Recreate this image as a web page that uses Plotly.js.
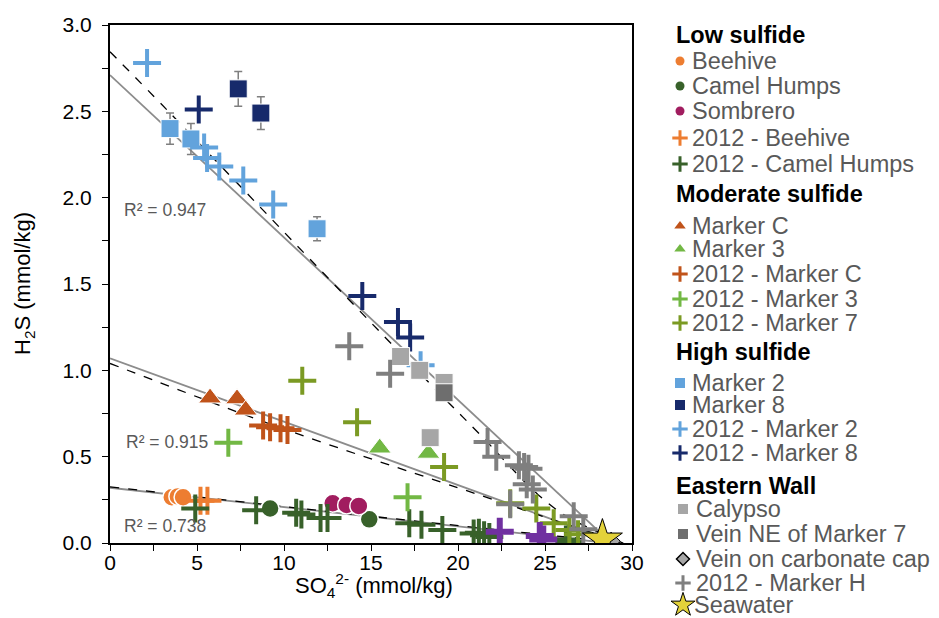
<!DOCTYPE html>
<html>
<head>
<meta charset="utf-8">
<script src="https://cdn.plot.ly/plotly-3.0.1.min.js"></script>
<style>html,body{margin:0;padding:0;background:#fff;}#chart{width:939px;height:618px;}</style>
</head>
<body>
<div id="chart"></div>
<script>
// ---- Data (SO4 mmol/kg, H2S mmol/kg) ----
const beehiveX = [3.55, 3.9, 4.2];
const beehiveY = [0.265, 0.27, 0.265];
const camelX = [9.2, 14.9];
const camelY = [0.20, 0.137];
const sombreroX = [12.8, 13.6, 14.3];
const sombreroY = [0.23, 0.22, 0.215];
const beehive12X = [5.2, 5.6];
const beehive12Y = [0.245, 0.245];
const camel12X = [4.9, 8.4, 10.7, 11.0, 12.1, 12.5, 17.2, 17.9, 19.1, 20.9, 21.2, 21.5, 21.8, 26.2, 26.4];
const camel12Y = [0.20, 0.19, 0.175, 0.165, 0.145, 0.145, 0.115, 0.105, 0.075, 0.055, 0.06, 0.045, 0.035, 0.02, 0.005];

const markerCX = [5.75, 7.3, 7.8];
const markerCY = [0.84, 0.835, 0.77];
const markerCErr = [0.02, 0.02, 0.02];
const marker3X = [15.5, 18.3];
const marker3Y = [0.55, 0.52];
const marker3Err = [0.02, 0.02];
const markerC12X = [8.8, 9.2, 9.8, 10.2];
const markerC12Y = [0.68, 0.67, 0.665, 0.655];
const marker312X = [6.8, 17.1];
const marker312Y = [0.58, 0.265];
const marker712X = [11.05, 14.2, 19.2, 23.0, 24.5, 25.5, 26.4, 26.9];
const marker712Y = [0.94, 0.70, 0.44, 0.23, 0.20, 0.115, 0.075, 0.05];

const marker2X = [3.45, 4.65, 11.9];
const marker2Y = [2.40, 2.34, 1.82];
const marker2Err = [0.09, 0.09, 0.07];
const marker8X = [7.37, 8.67];
const marker8Y = [2.63, 2.49];
const marker8Err = [0.10, 0.095];
const marker212X = [2.13, 5.41, 5.58, 6.28, 7.66, 9.38, 17.85];
const marker212Y = [2.78, 2.29, 2.23, 2.18, 2.10, 1.96, 1.03];
const marker812X = [5.1, 14.5, 16.55, 17.25];
const marker812Y = [2.51, 1.43, 1.28, 1.19];

const calypsoX = [16.7, 17.8, 19.2, 18.4];
const calypsoY = [1.08, 1.00, 0.93, 0.61];
const veinNEX = [19.2];
const veinNEY = [0.87];
const veinCapX = [28.8];
const veinCapY = [0.01];
const markerH12X = [13.75, 16.1, 21.7, 22.2, 23.5, 23.8, 24.05, 23.95, 24.3, 23.0, 26.65, 27.2];
const markerH12Y = [1.14, 0.98, 0.585, 0.50, 0.45, 0.44, 0.43, 0.34, 0.31, 0.225, 0.155, 0.08];
const seawaterX = [28.3];
const seawaterY = [0.02];
const purpleX = [22.4, 24.7, 24.9];
const purpleY = [0.065, 0.04, 0.02];

// trend lines
const highSolidX = [0, 28.6];
const highSolidY = [2.71, 0.02];
const modSolidX = [0, 28.6];
const modSolidY = [1.07, 0.02];
const lowSolidX = [0, 28.6];
const lowSolidY = [0.32, 0.0];
const highDashX = [0, 3.26, 12.1, 18.9, 21.25, 24.6, 26.4, 29.6];
const highDashY = [2.845, 2.51, 1.58, 0.87, 0.63, 0.28, 0.145, 0.0];
const modDashX = [0, 10, 20, 25, 29.5];
const modDashY = [1.04, 0.66, 0.32, 0.15, 0.0];
const lowDashX = [0, 15, 29.5];
const lowDashY = [0.325, 0.155, 0.0];

const r2Labels = ['R² = 0.947', 'R² = 0.915', 'R² = 0.738'];
const r2X = [0.7, 0.8, 0.7];
const r2Y = [1.93, 0.585, 0.10];

const xTitle = 'SO<sub>4</sub><sup>2-</sup> (mmol/kg)';
const yTitle = 'H<sub>2</sub>S (mmol/kg)';

// legend content
const groupTitles = ['Low sulfide', 'Moderate sulfide', 'High sulfide', 'Eastern Wall'];
const legendNames = [
  ['Beehive', 'Camel Humps', 'Sombrero', '2012 - Beehive', '2012 - Camel Humps'],
  ['Marker C', 'Marker 3', '2012 - Marker C', '2012 - Marker 3', '2012 - Marker 7'],
  ['Marker 2', 'Marker 8', '2012 - Marker 2', '2012 - Marker 8'],
  ['Calypso', 'Vein NE of Marker 7', 'Vein on carbonate cap', '2012 - Marker H', 'Seawater']
];

// ---- Styles ----
const FONT = 'Arial, Liberation Sans, sans-serif';
const C = {
  beehive: '#ed7d31', camel: '#38612a', sombrero: '#a11d5f',
  mc: '#c0531a', m3: '#72b844', m7: '#7b9a23',
  m2: '#62a3dc', m8: '#172a6b',
  calypso: '#a6a6a6', veinNE: '#6e6e6e', markerH: '#7f7f7f', star: '#e3d23a', purple: '#7030a0'
};
const legendStyles = [
  [{s: 'circle', c: C.beehive}, {s: 'circle', c: C.camel}, {s: 'circle', c: C.sombrero}, {s: 'cross', c: C.beehive}, {s: 'cross', c: C.camel}],
  [{s: 'triangle-up', c: C.mc}, {s: 'triangle-up', c: C.m3}, {s: 'cross', c: C.mc}, {s: 'cross', c: C.m3}, {s: 'cross', c: C.m7}],
  [{s: 'square', c: C.m2}, {s: 'square', c: C.m8}, {s: 'cross', c: C.m2}, {s: 'cross', c: C.m8}],
  [{s: 'square', c: C.calypso}, {s: 'square', c: C.veinNE}, {s: 'diamond', c: C.calypso}, {s: 'cross', c: C.markerH}, {s: 'star', c: C.star}]
];
// legend layout in pixel rows
const headerRowsPx = [35, 194, 352, 486];
const itemRowsPx = [[61, 86, 111, 138, 164], [226, 249, 274, 299, 323], [383, 405, 429, 453], [509, 534, 559, 583, 605]];

function circle(x, y, color) {
  return {type: 'scatter', mode: 'markers', x, y, showlegend: false,
    marker: {symbol: 'circle', size: 18, color, line: {color: '#fff', width: 1.5}}};
}
function cross(x, y, color, w) {
  return {type: 'scatter', mode: 'markers', x, y, showlegend: false,
    marker: {symbol: 'cross-thin', size: 20, color, line: {color, width: w || 4}}};
}
function sym(x, y, color, symbol, size, err, lineColor) {
  const t = {type: 'scatter', mode: 'markers', x, y, showlegend: false,
    marker: {symbol, size, color, line: {color: lineColor || '#fff', width: 1}}};
  if (err) t.error_y = {type: 'data', array: err, color: '#7f7f7f', thickness: 1.5, width: 4};
  return t;
}
function line(x, y, dash, color) {
  return {type: 'scatter', mode: 'lines', x, y, showlegend: false, hoverinfo: 'skip',
    line: {color, width: dash ? 1.3 : 1.8, dash: dash ? 'dash' : 'solid', shape: 'spline'}};
}

const traces = [
  line(highSolidX, highSolidY, false, '#8c8c8c'),
  line(modSolidX, modSolidY, false, '#8c8c8c'),
  line(lowSolidX, lowSolidY, false, '#8c8c8c'),
  line(highDashX, highDashY, true, '#000'),
  line(modDashX, modDashY, true, '#000'),
  line(lowDashX, lowDashY, true, '#000'),

  circle(beehiveX, beehiveY, C.beehive),
  circle(camelX, camelY, C.camel),
  circle(sombreroX, sombreroY, C.sombrero),
  cross(beehive12X, beehive12Y, C.beehive),
  cross(camel12X, camel12Y, C.camel),

  sym(markerCX, markerCY, C.mc, 'triangle-up', 20, markerCErr),
  sym(marker3X, marker3Y, C.m3, 'triangle-up', 20, marker3Err),
  cross(markerC12X, markerC12Y, C.mc),
  cross(marker312X, marker312Y, C.m3),
  cross(marker712X, marker712Y, C.m7),

  sym(marker2X, marker2Y, C.m2, 'square', 18, marker2Err),
  sym(marker8X, marker8Y, C.m8, 'square', 18, marker8Err),
  cross(marker212X, marker212Y, C.m2),
  cross(marker812X, marker812Y, C.m8),

  sym(calypsoX, calypsoY, C.calypso, 'square', 18),
  sym(veinNEX, veinNEY, C.veinNE, 'square', 18),
  sym(veinCapX, veinCapY, C.calypso, 'diamond', 14, null, '#000'),
  cross(markerH12X, markerH12Y, C.markerH),
  cross(purpleX, purpleY, C.purple, 6),
  sym(seawaterX, seawaterY, C.star, 'star', 30, null, '#000')
];

// ---- Page geometry (margins 0; axes placed with domains) ----
const PW = 939, PH = 618;
const L = 110, T = 25, W = 522, H = 518;      // main plot area in px

// full-page "pixel" axes (x3/y3) for legend swatches and free text
const annotations = [];
function pxText(x, y, text, font, extra) {
  annotations.push(Object.assign({xref: 'x3', yref: 'y3', x, y, text, showarrow: false,
    xanchor: 'left', yanchor: 'middle', font}, extra || {}));
}
groupTitles.forEach((g, gi) => {
  pxText(674, headerRowsPx[gi], '<b>' + g + '</b>', {family: FONT, size: 23.5, color: '#000'});
  legendNames[gi].forEach((n, ni) => {
    const tx = gi === 3 ? (n === 'Seawater' ? 692 : 694) : 690;
    pxText(tx, itemRowsPx[gi][ni], n, {family: FONT, size: 23.5, color: '#595959'});
    const st = legendStyles[gi][ni];
    const mx = gi === 3 ? 683 : 680;
    let marker;
    if (st.s === 'cross') marker = {symbol: 'cross-thin', size: 11, color: st.c, line: {color: st.c, width: 3}};
    else if (st.s === 'star') marker = {symbol: 'star', size: 18, color: st.c, line: {color: '#000', width: 1}};
    else if (st.s === 'diamond') marker = {symbol: 'diamond', size: 10, color: st.c, line: {color: '#000', width: 1.5}};
    else if (st.s === 'circle') marker = {symbol: 'circle', size: 9, color: st.c, line: {width: 0}};
    else if (st.s === 'triangle-up') marker = {symbol: 'triangle-up', size: 10, color: st.c, line: {width: 0}};
    else marker = {symbol: 'square', size: 10, color: st.c, line: {width: 0}};
    traces.push({type: 'scatter', mode: 'markers', xaxis: 'x3', yaxis: 'y3', cliponaxis: false,
      x: [mx], y: [itemRowsPx[gi][ni]], showlegend: false, hoverinfo: 'skip', marker});
  });
});
// axis titles
pxText(374, 585, xTitle, {family: FONT, size: 22, color: '#000'}, {xanchor: 'center'});
pxText(24, 284, yTitle, {family: FONT, size: 22, color: '#000'}, {xanchor: 'center', textangle: -90});
// R² labels in data coordinates
r2Labels.forEach((t, i) => annotations.push({
  x: r2X[i], y: r2Y[i], xref: 'x', yref: 'y', text: t, showarrow: false, xanchor: 'left', yanchor: 'middle',
  font: {family: FONT, size: 17.5, color: '#595959'}
}));

const tickFont = {family: FONT, size: 21, color: '#000'};
const layout = {
  width: PW, height: PH,
  margin: {l: 0, r: 0, t: 0, b: 0, pad: 0},
  paper_bgcolor: '#fff', plot_bgcolor: 'rgba(0,0,0,0)',
  font: {family: FONT},
  showlegend: false,
  xaxis: {domain: [L / PW, (L + W) / PW], anchor: 'y', range: [0, 30], dtick: 5, tick0: 0, showgrid: false, zeroline: false,
    showline: true, linecolor: '#000', linewidth: 2, mirror: true,
    ticks: 'outside', ticklen: 6, tickcolor: '#000', tickwidth: 1, ticklabelstandoff: -6,
    minor: {dtick: 2.5, ticks: 'outside', ticklen: 6, tickcolor: '#000', tickwidth: 1, showgrid: false},
    tickfont: tickFont},
  yaxis: {domain: [(PH - T - H) / PH, (PH - T) / PH], anchor: 'x', range: [0, 3], dtick: 0.5, tick0: 0, tickformat: '.1f',
    showgrid: false, zeroline: false,
    showline: true, linecolor: '#000', linewidth: 2, mirror: true,
    ticks: 'outside', ticklen: 6, tickcolor: '#000', tickwidth: 1, ticklabelstandoff: 6,
    minor: {dtick: 0.25, ticks: 'outside', ticklen: 6, tickcolor: '#000', tickwidth: 1, showgrid: false},
    tickfont: tickFont},
  xaxis3: {domain: [0, 1], anchor: 'y3', range: [0, PW], visible: false, fixedrange: true},
  yaxis3: {domain: [0, 1], anchor: 'x3', range: [PH, 0], visible: false, fixedrange: true},
  annotations
};

Plotly.newPlot('chart', traces, layout, {displayModeBar: false, staticPlot: true});
</script>
</body>
</html>
